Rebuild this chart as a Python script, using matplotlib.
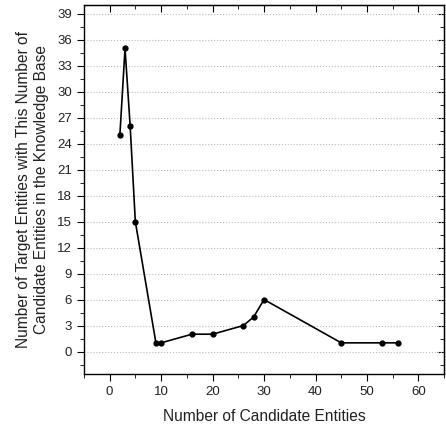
import matplotlib.pyplot as plt
from matplotlib.ticker import MultipleLocator

plt.rcParams['font.family'] = ['Liberation Sans', 'DejaVu Sans']

# candidatos x quantidade de entidades alvo
num_candidatos = [2, 3, 4, 5, 9, 10, 16, 20, 26, 28, 30, 45, 53, 56]
num_entidades = [25, 35, 26, 15, 1, 1, 2, 2, 3, 4, 6, 1, 1, 1]

fig = plt.figure(figsize=(4.46, 4.26), dpi=100)
ax = fig.add_axes([0.188, 0.122, 0.808, 0.866])

ax.plot(num_candidatos, num_entidades, color='black', linewidth=1.2,
        marker='o', markersize=3.5)

ax.set_xlim(-5, 65)
ax.set_ylim(-2.6, 40)
ax.xaxis.set_major_locator(MultipleLocator(10))
ax.xaxis.set_minor_locator(MultipleLocator(5))
ax.yaxis.set_major_locator(MultipleLocator(3))
ax.yaxis.set_minor_locator(MultipleLocator(1.5))

ax.grid(axis='y', which='major', linestyle=':', color='#bbbbbb', linewidth=0.8)

ax.tick_params(which='both', direction='out', top=False, right=False,
               labelsize=9.5)
ax.tick_params(which='major', length=5)
ax.tick_params(which='minor', length=3)
for lbl in ax.get_xticklabels() + ax.get_yticklabels():
    lbl.set_color('#222222')

# ticks espelhados para dentro (topo e direita)
sec_x = ax.secondary_xaxis('top')
sec_x.xaxis.set_major_locator(MultipleLocator(10))
sec_x.xaxis.set_minor_locator(MultipleLocator(5))
sec_x.tick_params(which='both', direction='in', labeltop=False)
sec_x.tick_params(which='major', length=5)
sec_x.tick_params(which='minor', length=3)
sec_y = ax.secondary_yaxis('right')
sec_y.yaxis.set_major_locator(MultipleLocator(3))
sec_y.yaxis.set_minor_locator(MultipleLocator(1.5))
sec_y.tick_params(which='both', direction='in', labelright=False)
sec_y.tick_params(which='major', length=5)
sec_y.tick_params(which='minor', length=3)

for s in ax.spines.values():
    s.set_linewidth(1.0)

ax.set_xlabel('Number of Candidate Entities', fontsize=11.2, labelpad=8,
              color='#222222')
ax.set_ylabel('Number of Target Entities with This Number of\n'
              'Candidate Entities in the Knowledge Base', fontsize=11.2,
              labelpad=6, color='#222222')

fig.savefig('out.png', dpi=100)
